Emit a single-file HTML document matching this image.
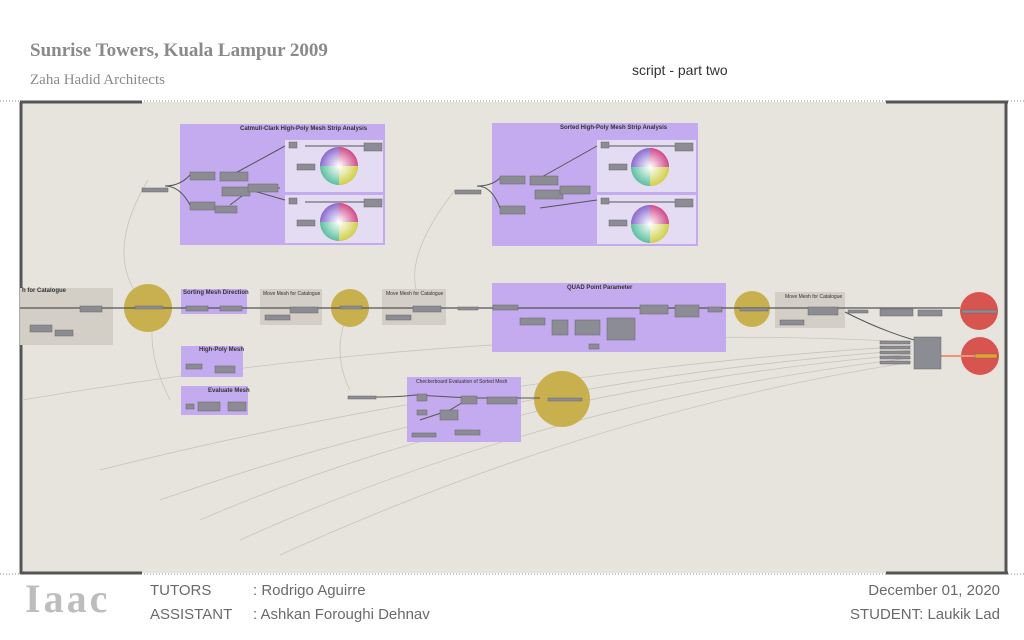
<!DOCTYPE html>
<html><head><meta charset="utf-8"><style>
*{margin:0;padding:0;box-sizing:border-box}
body{width:1024px;height:640px;background:#fff;position:relative;overflow:hidden;font-family:"Liberation Sans",sans-serif}
.t{position:absolute;white-space:nowrap}
.serif{font-family:"Liberation Serif",serif;color:#8a8a8a}
.ft{color:#6a6a6a;font-size:15px}
</style></head><body>
<div class="t serif" style="left:30px;top:40px;font-size:19px;font-weight:bold">Sunrise Towers, Kuala Lampur 2009</div>
<div class="t serif" style="left:30px;top:72px;font-size:15px">Zaha Hadid Architects</div>
<div class="t" style="left:632px;top:62px;font-size:14px;color:#333">script - part two</div>

<svg width="1024" height="640" style="position:absolute;left:0;top:0">
<line x1="0" y1="101" x2="1024" y2="101" stroke="#888" stroke-dasharray="1,2"/>
<line x1="0" y1="574" x2="1024" y2="574" stroke="#888" stroke-dasharray="1,2"/>
<rect x="20" y="102" width="987" height="471" fill="#e7e4dd"/>
<line x1="21" y1="102" x2="21" y2="574" stroke="#555" stroke-width="3"/>
<line x1="1006" y1="102" x2="1006" y2="574" stroke="#555" stroke-width="3"/>
<line x1="20" y1="102" x2="142" y2="102" stroke="#555" stroke-width="3"/>
<line x1="886" y1="102" x2="1008" y2="102" stroke="#555" stroke-width="3"/>
<line x1="20" y1="573" x2="142" y2="573" stroke="#555" stroke-width="3"/>
<line x1="886" y1="573" x2="1008" y2="573" stroke="#555" stroke-width="3"/>
<g stroke="#c8c4bc" fill="none" stroke-width="0.8">
<path d="M22 400 Q500 320 912 342"/>
<path d="M100 470 Q500 370 912 346"/>
<path d="M160 500 Q500 380 912 350"/>
<path d="M200 520 Q500 390 912 354"/>
<path d="M240 540 Q550 400 912 358"/>
<path d="M280 555 Q600 410 912 362"/>
<path d="M148 180 Q100 260 148 308"/>
<path d="M455 190 Q400 260 420 300"/>
<path d="M350 390 Q330 350 350 308"/>
<path d="M170 400 Q140 340 160 300"/>
</g>
<rect x="20" y="288" width="93" height="57" fill="#d3cfc6"/>
<rect x="180" y="124" width="205" height="121" fill="#c4aaee"/>
<rect x="285" y="140" width="98" height="52" fill="#e4dcf2"/>
<rect x="285" y="195" width="98" height="48" fill="#e4dcf2"/>
<rect x="492" y="123" width="206" height="123" fill="#c4aaee"/>
<rect x="597" y="140" width="99" height="52" fill="#e4dcf2"/>
<rect x="597" y="195" width="99" height="49" fill="#e4dcf2"/>
<rect x="181" y="289" width="66" height="25" fill="#c4aaee"/>
<rect x="260" y="289" width="62" height="36" fill="#d3cfc6"/>
<rect x="382" y="289" width="64" height="36" fill="#d3cfc6"/>
<rect x="775" y="292" width="70" height="36" fill="#d3cfc6"/>
<rect x="492" y="283" width="234" height="69" fill="#c4aaee"/>
<rect x="181" y="346" width="62" height="31" fill="#c4aaee"/>
<rect x="181" y="386" width="67" height="29" fill="#c4aaee"/>
<rect x="407" y="377" width="114" height="65" fill="#c4aaee"/>
<g fill="#c8b04e"><circle cx="148" cy="308" r="24"/><circle cx="350" cy="308" r="19"/><circle cx="752" cy="309" r="18"/><circle cx="562" cy="399" r="28"/></g>
<g fill="#d8554f"><circle cx="979" cy="311" r="19"/><circle cx="980" cy="356" r="19"/></g>
<defs><radialGradient id="w"><stop offset="0" stop-color="#fff"/><stop offset="1" stop-color="#fff" stop-opacity="0"/></radialGradient></defs>
<g>
<circle cx="339" cy="166" r="19" fill="#e57a4a"/><path d="M339 166 L339 147 A19 19 0 0 1 358 166Z" fill="#d04a8a"/><path d="M339 166 L320 166 A19 19 0 0 1 339 147Z" fill="#8a6ad0"/><path d="M339 166 L339 185 A19 19 0 0 1 320 166Z" fill="#5ac0a0"/><path d="M339 166 L358 166 A19 19 0 0 1 339 185Z" fill="#d0d04a"/><circle cx="339" cy="166" r="19" fill="url(#w)"/>
<circle cx="339" cy="222" r="19" fill="#e57a4a"/><path d="M339 222 L339 203 A19 19 0 0 1 358 222Z" fill="#d04a8a"/><path d="M339 222 L320 222 A19 19 0 0 1 339 203Z" fill="#8a6ad0"/><path d="M339 222 L339 241 A19 19 0 0 1 320 222Z" fill="#5ac0a0"/><path d="M339 222 L358 222 A19 19 0 0 1 339 241Z" fill="#d0d04a"/><circle cx="339" cy="222" r="19" fill="url(#w)"/>
<circle cx="650" cy="167" r="19" fill="#e57a4a"/><path d="M650 167 L650 148 A19 19 0 0 1 669 167Z" fill="#d04a8a"/><path d="M650 167 L631 167 A19 19 0 0 1 650 148Z" fill="#8a6ad0"/><path d="M650 167 L650 186 A19 19 0 0 1 631 167Z" fill="#5ac0a0"/><path d="M650 167 L669 167 A19 19 0 0 1 650 186Z" fill="#d0d04a"/><circle cx="650" cy="167" r="19" fill="url(#w)"/>
<circle cx="650" cy="224" r="19" fill="#e57a4a"/><path d="M650 224 L650 205 A19 19 0 0 1 669 224Z" fill="#d04a8a"/><path d="M650 224 L631 224 A19 19 0 0 1 650 205Z" fill="#8a6ad0"/><path d="M650 224 L650 243 A19 19 0 0 1 631 224Z" fill="#5ac0a0"/><path d="M650 224 L669 224 A19 19 0 0 1 650 243Z" fill="#d0d04a"/><circle cx="650" cy="224" r="19" fill="url(#w)"/>
</g>
<g stroke="#555" fill="none" stroke-width="1">
<line x1="20" y1="308" x2="960" y2="308" stroke-width="1.2"/>
<path d="M165 186 Q180 186 190 175 L200 176 M165 186 Q180 186 190 205 L200 205 M230 176 L285 146 M230 205 L250 190 L285 200 M250 190 L280 188"/>
<path d="M477 186 Q492 186 500 178 L510 178 M477 186 Q492 186 500 208 L510 208 M540 178 L597 146 M540 208 L597 200 M560 190 L590 188"/>
<path d="M305 146 L365 146 M305 202 L365 202 M605 146 L675 146 M605 202 L675 202"/>
<path d="M375 397 Q400 397 415 395 L470 398 L540 398 M420 420 L450 410 L470 398"/>
<path d="M845 312 Q880 330 914 340"/>
<path d="M940 356 L980 356" stroke="#e9967a" stroke-width="2"/>
</g>
<g fill="#8c8c94" stroke="#666" stroke-width="0.5">
<rect x="142" y="188" width="26" height="4"/><rect x="190" y="172" width="25" height="8"/><rect x="190" y="202" width="25" height="8"/><rect x="220" y="172" width="28" height="9"/><rect x="222" y="187" width="28" height="9"/><rect x="248" y="184" width="30" height="8"/><rect x="215" y="206" width="22" height="7"/>
<rect x="289" y="142" width="8" height="6"/><rect x="289" y="198" width="8" height="6"/><rect x="297" y="164" width="18" height="6"/><rect x="297" y="220" width="18" height="6"/><rect x="364" y="143" width="18" height="8"/><rect x="364" y="199" width="18" height="8"/>
<rect x="455" y="190" width="26" height="4"/><rect x="500" y="176" width="25" height="8"/><rect x="500" y="206" width="25" height="8"/><rect x="530" y="176" width="28" height="9"/><rect x="535" y="190" width="28" height="9"/><rect x="560" y="186" width="30" height="8"/>
<rect x="601" y="142" width="8" height="6"/><rect x="601" y="198" width="8" height="6"/><rect x="609" y="164" width="18" height="6"/><rect x="609" y="220" width="18" height="6"/><rect x="675" y="143" width="18" height="8"/><rect x="675" y="199" width="18" height="8"/>
<rect x="80" y="306" width="22" height="6"/><rect x="30" y="325" width="22" height="7"/><rect x="55" y="330" width="18" height="6"/><rect x="135" y="306" width="28" height="3"/><rect x="186" y="306" width="22" height="5"/><rect x="220" y="306" width="22" height="5"/>
<rect x="290" y="307" width="28" height="6"/><rect x="265" y="315" width="25" height="5"/><rect x="340" y="306" width="22" height="3"/><rect x="413" y="306" width="28" height="6"/><rect x="386" y="315" width="25" height="5"/><rect x="458" y="307" width="20" height="3"/>
<rect x="493" y="305" width="25" height="5"/><rect x="520" y="318" width="25" height="7"/><rect x="552" y="320" width="16" height="15"/><rect x="575" y="320" width="25" height="15"/><rect x="607" y="318" width="28" height="22"/><rect x="640" y="305" width="28" height="9"/><rect x="675" y="305" width="24" height="12"/><rect x="708" y="307" width="14" height="5"/><rect x="589" y="344" width="10" height="5"/>
<rect x="740" y="308" width="28" height="3"/><rect x="808" y="307" width="30" height="8"/><rect x="780" y="320" width="24" height="5"/><rect x="848" y="310" width="20" height="3"/><rect x="880" y="309" width="33" height="7"/><rect x="918" y="310" width="24" height="6"/><rect x="962" y="310" width="35" height="3"/>
<rect x="880" y="341" width="30" height="3"/><rect x="880" y="346" width="30" height="3"/><rect x="880" y="351" width="30" height="3"/><rect x="880" y="356" width="30" height="3"/><rect x="880" y="361" width="30" height="3"/><rect x="914" y="337" width="27" height="32"/>
<rect x="186" y="364" width="16" height="5"/><rect x="215" y="366" width="20" height="7"/><rect x="186" y="404" width="8" height="5"/><rect x="198" y="402" width="22" height="9"/><rect x="228" y="402" width="18" height="9"/>
<rect x="348" y="396" width="28" height="3"/><rect x="417" y="394" width="10" height="7"/><rect x="417" y="410" width="10" height="5"/><rect x="440" y="410" width="18" height="10"/><rect x="461" y="396" width="16" height="8"/><rect x="487" y="397" width="30" height="7"/><rect x="455" y="430" width="25" height="5"/><rect x="412" y="433" width="24" height="4"/>
<rect x="548" y="398" width="34" height="3"/><rect x="975" y="354" width="22" height="4" fill="#e8a030"/>
</g>
</svg>
<div class="t" style="left:22px;top:288px;font-size:6px;font-weight:bold;color:#333">h for Catalogue</div>
<div class="t" style="left:240px;top:126px;font-size:6px;font-weight:bold;color:#333">Catmull-Clark High-Poly Mesh Strip Analysis</div>
<div class="t" style="left:560px;top:125px;font-size:6px;font-weight:bold;color:#333">Sorted High-Poly Mesh Strip Analysis</div>
<div class="t" style="left:183px;top:290px;font-size:6px;font-weight:bold;color:#333">Sorting Mesh Direction</div>
<div class="t" style="left:263px;top:291px;font-size:5px;color:#333">Move Mesh for Catalogue</div>
<div class="t" style="left:386px;top:291px;font-size:5px;color:#333">Move Mesh for Catalogue</div>
<div class="t" style="left:785px;top:294px;font-size:5px;color:#333">Move Mesh for Catalogue</div>
<div class="t" style="left:567px;top:285px;font-size:6px;font-weight:bold;color:#333">QUAD Point Parameter</div>
<div class="t" style="left:199px;top:347px;font-size:6px;font-weight:bold;color:#333">High-Poly Mesh</div>
<div class="t" style="left:208px;top:388px;font-size:6px;font-weight:bold;color:#333">Evaluate Mesh</div>
<div class="t" style="left:416px;top:379px;font-size:5px;color:#333">Checkerboard Evaluation of Sorted Mesh</div>

<div class="t" style="left:25px;top:575px;font-size:40px;font-weight:bold;color:#bdbdbd;font-family:'Liberation Serif',serif;letter-spacing:3px">Iaac</div>
<div class="t ft" style="left:150px;top:582px">TUTORS</div>
<div class="t ft" style="left:253px;top:582px">: Rodrigo Aguirre</div>
<div class="t ft" style="left:150px;top:606px">ASSISTANT</div>
<div class="t ft" style="left:253px;top:606px">: Ashkan Foroughi Dehnav</div>
<div class="t ft" style="right:24px;top:582px">December 01, 2020</div>
<div class="t ft" style="right:24px;top:606px">STUDENT: Laukik Lad</div>
</body></html>
